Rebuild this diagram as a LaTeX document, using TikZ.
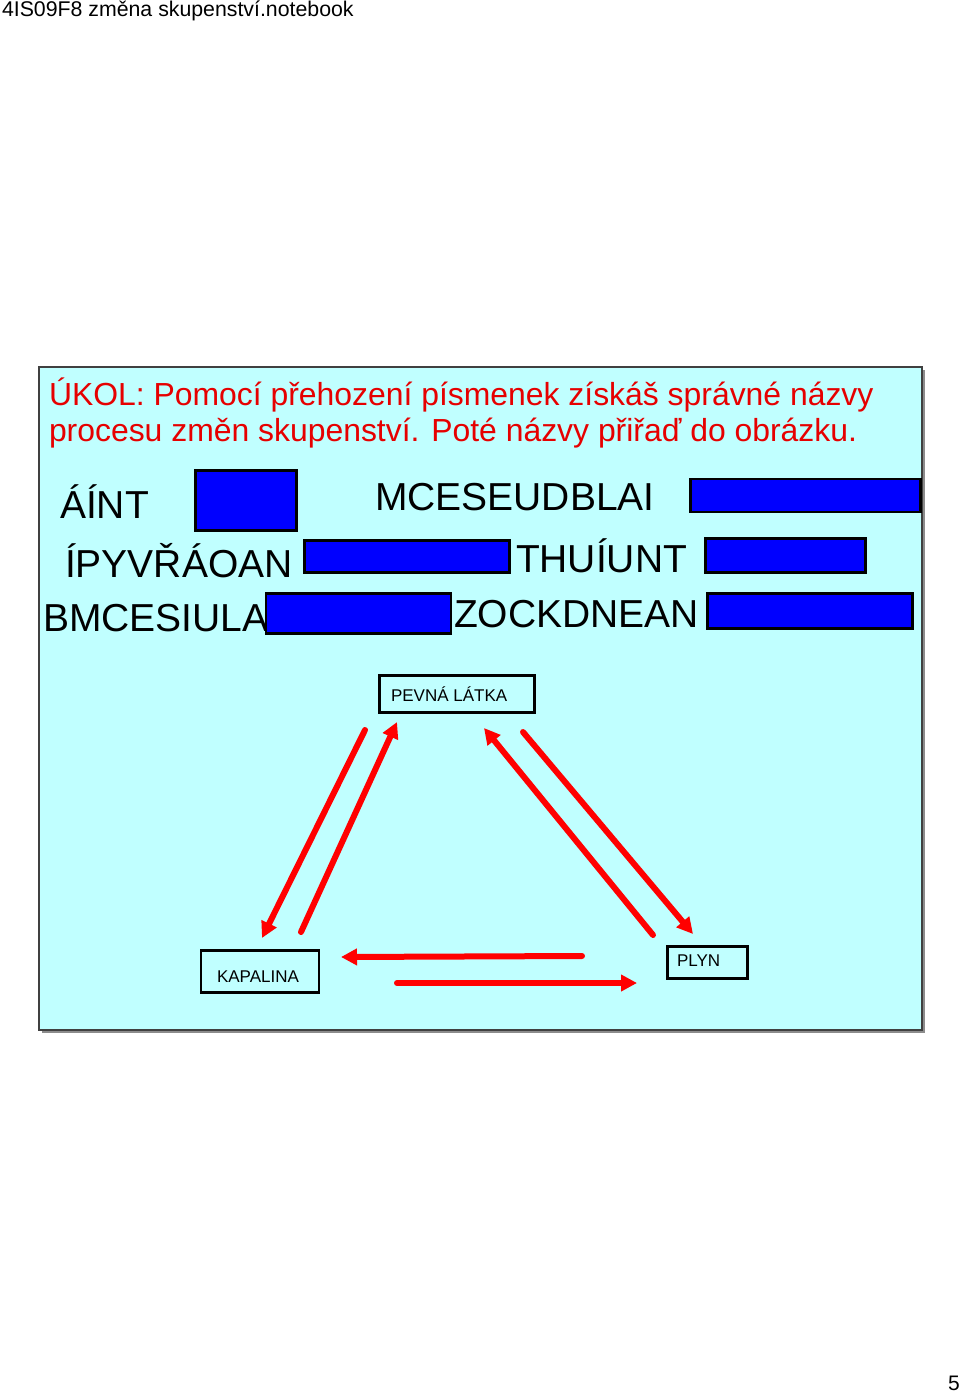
\documentclass[tikz,border=0pt]{standalone}
\usepackage{fontspec}
\setmainfont{Liberation Sans}
\usetikzlibrary{arrows.meta}
\definecolor{panelbg}{RGB}{192,255,255}
\definecolor{titlered}{RGB}{230,0,0}
\definecolor{arrowred}{RGB}{255,0,0}
\definecolor{shadowgray}{RGB}{140,140,140}
\tikzset{
  txt/.style={anchor=base west, inner sep=0pt, outer sep=0pt},
  bigword/.style={txt, font=\fontsize{39}{42}\selectfont},
  titletxt/.style={txt, text=titlered, font=\fontsize{31.9}{36}\selectfont},
  smalltxt/.style={txt, font=\fontsize{17}{20}\selectfont},
  bluebox/.style={draw=black, line width=2.8pt, fill=blue, inner sep=0pt},
  statebox/.style={draw=black, line width=2.8pt, fill=panelbg, inner sep=0pt},
  redarrow/.style={draw=arrowred, line width=6pt, line cap=round,
    -{Triangle[length=16pt,width=16pt]}},
}
\begin{document}
\begin{tikzpicture}[x=1pt,y=-1pt]
\useasboundingbox (0,0) rectangle (960,1394);
\fill[white] (0,0) rectangle (960,1394);
% header
\node[txt, font=\fontsize{21.3}{24}\selectfont] (hdr) at (2,17) {4IS09F8 změna skupenství.notebook};
\node[txt, font=\fontsize{21}{24}\selectfont] (pg) at (948,1390) {5};
% panel
\fill[shadowgray] (42,370) rectangle (925,1033);
\filldraw[fill=panelbg, draw=black!75, line width=1.2pt] (39,367) rectangle (922,1030);
% title
\node[titletxt] (t1) at (49,405) {ÚKOL: Pomocí přehození písmenek získáš správné názvy};
\node[titletxt] (t2) at (49,441) {procesu změn skupenství. Poté názvy přiřaď do obrázku.};
% scrambled words
\node[bigword] (w1) at (60,518) {ÁÍNT};
\node[bigword] (w2) at (375,510) {MCESEUDBLAI};
\node[bigword] (w3) at (65,577) {ÍPYVŘÁOAN};
\node[bigword] (w4) at (516,572) {THUÍUNT};
\node[bigword] (w5) at (43,631) {BMCESIULA};
\node[bigword] (w6) at (454,627) {ZOCKDNEAN};
% blue answer boxes
\node[bluebox, minimum width=101pt, minimum height=60pt] (b1) at (246,500.5) {};
\node[bluebox, minimum width=230pt, minimum height=33pt] (b2) at (805.5,495.5) {};
\node[bluebox, minimum width=205pt, minimum height=32pt] (b3) at (407,556.5) {};
\node[bluebox, minimum width=160pt, minimum height=34pt] (b4) at (785.5,555.5) {};
\node[bluebox, minimum width=185pt, minimum height=40pt] (b5) at (358.5,613.5) {};
\node[bluebox, minimum width=205pt, minimum height=35pt] (b6) at (810,611) {};
% state boxes
\node[statebox, minimum width=155pt, minimum height=37pt] (pevna) at (457,694) {};
\node[smalltxt] (pevnat) at (391,701) {PEVNÁ LÁTKA};
\node[statebox, minimum width=118pt, minimum height=42pt] (kap) at (260,971.5) {};
\node[smalltxt] (kapt) at (217,982) {KAPALINA};
\node[statebox, minimum width=80pt, minimum height=32pt] (plyn) at (707.5,962.5) {};
\node[smalltxt] (plynt) at (677,966) {PLYN};
% arrow end points
\coordinate (a1s) at (365,730); \coordinate (a1e) at (262,938);
\coordinate (a2s) at (301,932); \coordinate (a2e) at (397,722);
\coordinate (a3s) at (653,935); \coordinate (a3e) at (484,728);
\coordinate (a4s) at (523,732); \coordinate (a4e) at (693,934);
\coordinate (a5s) at (582,956); \coordinate (a5e) at (341,957);
\coordinate (a6s) at (397,983); \coordinate (a6e) at (637,983);
\draw[redarrow] (a1s) -- (a1e);
\draw[redarrow] (a2s) -- (a2e);
\draw[redarrow] (a3s) -- (a3e);
\draw[redarrow] (a4s) -- (a4e);
\draw[redarrow] (a5s) -- (a5e);
\draw[redarrow] (a6s) -- (a6e);
\end{tikzpicture}
\end{document}
